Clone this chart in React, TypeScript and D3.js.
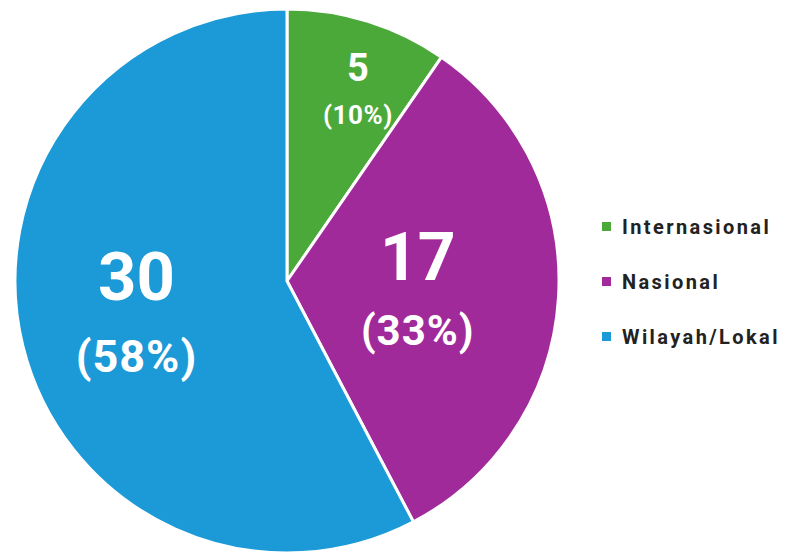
import React from "react";
import * as d3 from "d3";

const categories = ["Internasional", "Nasional", "Wilayah/Lokal"];
const values = [5, 17, 30];
const percentLabels = ["(10%)", "(33%)", "(58%)"];
const colors = ["#4ba93a", "#a12a9b", "#1b9ad7"];

// label styling per slice (radius fraction, font sizes, vertical offsets)
const labelStyles = [
  { k: 0.74, dx: 11, numSize: 38, pctSize: 26, dyNum: -8, dyPct: 35, ls: 0.5 },
  { k: 0.5, dx: -5, numSize: 66, pctSize: 42, dyNum: -9, dyPct: 56, ls: 1 },
  { k: 0.57, dx: 0, numSize: 67, pctSize: 45, dyNum: -18, dyPct: 54, ls: 1 },
];

const W = 787;
const H = 552;
const cx = 287;
const cy = 281;
const R = 272;

export default function App() {
  const pie = d3
    .pie<number>()
    .sort(null)
    .value((d) => d)
    .startAngle(0)
    .endAngle(2 * Math.PI);
  const arcs = pie(values);
  const arcGen = d3.arc<d3.PieArcDatum<number>>().innerRadius(0).outerRadius(R);

  const font = "Roboto, 'DejaVu Sans', sans-serif";

  return (
    <svg
      width={W}
      height={H}
      style={{ position: "absolute", left: 0, top: 0, background: "#fff" }}
    >
      <g transform={`translate(${cx},${cy})`}>
        {arcs.map((a, i) => (
          <path
            key={i}
            d={arcGen(a) || ""}
            fill={colors[i]}
            stroke="#fff"
            strokeWidth={3}
            strokeLinejoin="round"
          />
        ))}
        {arcs.map((a, i) => {
          const s = labelStyles[i];
          const lr = s.k * R;
          const [x, y] = d3
            .arc<d3.PieArcDatum<number>>()
            .innerRadius(lr)
            .outerRadius(lr)
            .centroid(a);
          return (
            <g key={"l" + i} fill="#fff" fontFamily={font} fontWeight={700} textAnchor="middle">
              <text x={x + s.dx} y={y + s.dyNum} fontSize={s.numSize}>
                {values[i]}
              </text>
              <text
                x={x + s.dx}
                y={y + s.dyPct}
                fontSize={s.pctSize}
                letterSpacing={s.ls}
              >
                {percentLabels[i]}
              </text>
            </g>
          );
        })}
      </g>
      <g transform="translate(602,227)">
        {categories.map((c, i) => (
          <g key={c} transform={`translate(0,${i * 55})`}>
            <rect x={0} y={-5} width={9} height={9} fill={colors[i]} />
            <text
              x={20}
              y={0}
              dy="0.35em"
              fontFamily={font}
              fontWeight={700}
              fontSize={20}
              letterSpacing={2.4}
              fill="#222"
            >
              {c}
            </text>
          </g>
        ))}
      </g>
    </svg>
  );
}
